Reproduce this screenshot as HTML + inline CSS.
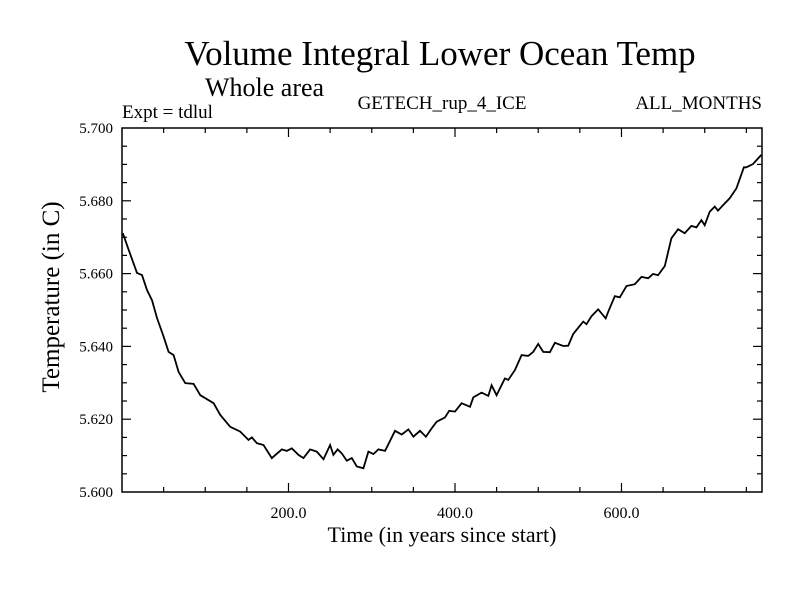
<!DOCTYPE html>
<html><head><meta charset="utf-8"><style>
body{margin:0;background:#fff;}
svg{display:block;font-family:"Liberation Serif",serif;}
</style></head><body>
<svg id="chart" width="800" height="600">
<text x="440" y="65" font-size="35" text-anchor="middle">Volume Integral Lower Ocean Temp</text>
<text x="205" y="96" font-size="26">Whole area</text>
<text x="122" y="118" font-size="19">Expt = tdlul</text>
<text x="442" y="109" font-size="19" text-anchor="middle">GETECH_rup_4_ICE</text>
<text x="762" y="109" font-size="19" text-anchor="end">ALL_MONTHS</text>
<text x="442" y="542" font-size="22" text-anchor="middle">Time (in years since start)</text>
<text x="0" y="0" font-size="25" text-anchor="middle" transform="translate(59,297) rotate(-90)">Temperature (in C)</text>
<g id="axes"></g>
<path id="line" fill="none" stroke="#000" stroke-width="1.8"/>
</svg>
<script>
const years=[1,8,18,24,30,36,42,50,56,62,68,76,86,94,110,118,130,142,152,156,162,170,180,192,198,204,212,218,226,234,242,250,254,259,264,270,276,282,290,296,302,308,316,328,336,344,350,358,365,372,378,388,393,400,408,418,422,432,440,444,450,460,464,472,480,488,494,500,506,514,520,530,536,542,554,558,564,572,581,584,592,598,606,616,624,632,638,644,652,660,668,676,684,690,696,700,706,712,716,722,730,738,747,750,758,768];
const temps=[5.6711,5.6665,5.6602,5.6596,5.6555,5.6527,5.6478,5.6427,5.6385,5.6376,5.6330,5.6299,5.6297,5.6266,5.6244,5.6212,5.6179,5.6166,5.6143,5.6150,5.6134,5.6129,5.6093,5.6117,5.6113,5.6120,5.6102,5.6093,5.6117,5.6111,5.6090,5.6129,5.6102,5.6117,5.6106,5.6086,5.6093,5.6070,5.6065,5.6111,5.6104,5.6117,5.6113,5.6168,5.6158,5.6172,5.6152,5.6168,5.6152,5.6175,5.6193,5.6205,5.6223,5.6221,5.6244,5.6234,5.6260,5.6273,5.6264,5.6293,5.6266,5.6312,5.6308,5.6335,5.6376,5.6374,5.6385,5.6407,5.6385,5.6384,5.6410,5.6401,5.6402,5.6434,5.6468,5.6461,5.6483,5.6502,5.6477,5.6495,5.6538,5.6535,5.6566,5.6571,5.6591,5.6587,5.6599,5.6596,5.6621,5.6697,5.6722,5.6711,5.6731,5.6727,5.6747,5.6733,5.6770,5.6784,5.6773,5.6788,5.6807,5.6834,5.6892,5.6892,5.6901,5.6926];
const xTicks=[200,400,600];
const xTickLabels=["200.0","400.0","600.0"];
const yTicks=[5.600,5.620,5.640,5.660,5.680,5.700];
const yTickLabels=["5.600","5.620","5.640","5.660","5.680","5.700"];
const X0=122,X1=762,Y0=492,Y1=128,XMIN=0,XMAX=768.8,YMIN=5.6,YMAX=5.7;
const sx=v=>X0+(v-XMIN)/(XMAX-XMIN)*(X1-X0);
const sy=v=>Y0-(v-YMIN)/(YMAX-YMIN)*(Y0-Y1);
const NS="http://www.w3.org/2000/svg";
const g=document.getElementById('axes');
function mk(t,a){const e=document.createElementNS(NS,t);for(const k in a)e.setAttribute(k,a[k]);g.appendChild(e);return e;}
const fr=mk('rect',{x:X0,y:Y1,width:X1-X0,height:Y0-Y1,fill:'none',stroke:'#000','stroke-width':1.5});


for(let v=50;v<XMAX;v+=50){const major=v%200===0;const L=major?9:5;const x=sx(v);
 const t1=mk('line',{x1:x,x2:x,y1:Y0,y2:Y0-L,stroke:'#000','stroke-width':1.2});
 
 
 const t2=mk('line',{x1:x,x2:x,y1:Y1,y2:Y1+L,stroke:'#000','stroke-width':1.2});
 
 }
xTicks.forEach((v,i)=>{const t=mk('text',{x:sx(v),y:518,'font-size':16,'text-anchor':'middle'});t.textContent=xTickLabels[i];
 
 });
for(let k=1;k<20;k++){const v=YMIN+k*0.005;const major=k%4===0;const L=major?9:5;const y=sy(v);
 const t1=mk('line',{x1:X0,x2:X0+L,y1:y,y2:y,stroke:'#000','stroke-width':1.2});
 
 
 const t2=mk('line',{x1:X1,x2:X1-L,y1:y,y2:y,stroke:'#000','stroke-width':1.2});
 
 }
yTicks.forEach((v,i)=>{const t=mk('text',{x:113,y:sy(v)+5,'font-size':15,'text-anchor':'end'});t.textContent=yTickLabels[i];
 
 });
document.getElementById('line').setAttribute('d',years.map((y,i)=>(i?'L':'M')+sx(y).toFixed(1)+','+sy(temps[i]).toFixed(1)).join(''));
</script>
</body></html>
